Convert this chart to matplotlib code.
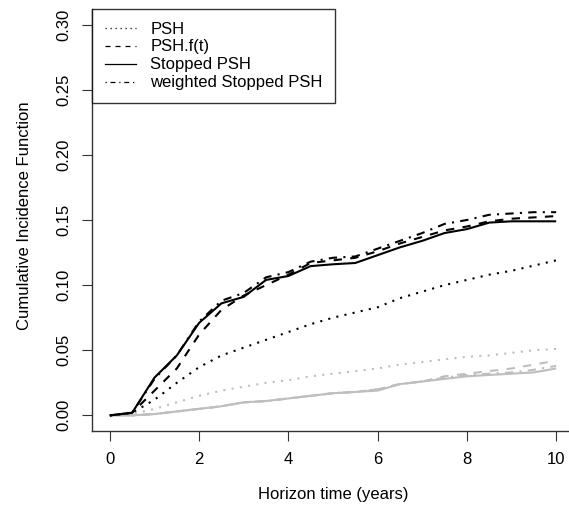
import numpy as np
import matplotlib
matplotlib.use("Agg")
import matplotlib.pyplot as plt
from matplotlib.lines import Line2D

plt.rcParams['font.family'] = ['Liberation Sans', 'DejaVu Sans']

# horizon times (years)
times = [0, 0.5, 1, 1.5, 2, 2.5, 3, 3.5, 4, 4.5, 5, 5.5, 6, 6.5, 7, 7.5, 8, 8.5, 9, 9.5, 10]

# black curves
psh = [0, 0.002, 0.012, 0.025, 0.037, 0.046, 0.052, 0.058, 0.064, 0.070, 0.075,
       0.079, 0.083, 0.090, 0.095, 0.100, 0.104, 0.108, 0.111, 0.115, 0.119]
psh_ft = [0, 0.002, 0.019, 0.036, 0.062, 0.081, 0.092, 0.100, 0.108, 0.117, 0.119,
          0.121, 0.126, 0.132, 0.137, 0.142, 0.145, 0.149, 0.151, 0.152, 0.153]
stopped = [0, 0.002, 0.029, 0.046, 0.071, 0.086, 0.091, 0.104, 0.107, 0.1146, 0.116,
           0.117, 0.123, 0.129, 0.134, 0.140, 0.143, 0.148, 0.149, 0.149, 0.149]
weighted = [0, 0.002, 0.028, 0.046, 0.072, 0.088, 0.094, 0.106, 0.110, 0.118, 0.121,
            0.122, 0.128, 0.134, 0.140, 0.147, 0.150, 0.154, 0.155, 0.156, 0.156]

# grey curves
psh_g = [0, 0.001, 0.005, 0.010, 0.015, 0.019, 0.022, 0.025, 0.027, 0.030, 0.032,
         0.034, 0.036, 0.039, 0.041, 0.043, 0.045, 0.046, 0.048, 0.050, 0.051]
psh_ft_g = [0, 0, 0.001, 0.003, 0.005, 0.007, 0.010, 0.011, 0.013, 0.015, 0.017,
            0.018, 0.020, 0.024, 0.026, 0.030, 0.032, 0.034, 0.036, 0.039, 0.042]
stopped_g = [0, 0, 0.001, 0.003, 0.005, 0.007, 0.010, 0.011, 0.013, 0.015, 0.017,
             0.018, 0.019, 0.024, 0.026, 0.028, 0.030, 0.031, 0.032, 0.033, 0.036]
weighted_g = [0, 0, 0.001, 0.003, 0.005, 0.007, 0.010, 0.011, 0.013, 0.015, 0.017,
              0.018, 0.020, 0.024, 0.026, 0.029, 0.031, 0.032, 0.033, 0.035, 0.038]

labels = ['PSH', 'PSH.f(t)', 'Stopped PSH', 'weighted Stopped PSH']
dashes = [(1, 3), (4, 4), (None, None), (1, 3, 4, 3)]
grey = '#BEBEBE'

W, H = 569, 508
fig = plt.figure(figsize=(W / 100, H / 100), dpi=100)
ax = fig.add_axes([92 / W, (H - 431) / H, 482 / W, 422 / H])

for ys, d in zip([psh_g, psh_ft_g, stopped_g, weighted_g], dashes):
    ln, = ax.plot(times, ys, color=grey, lw=1.5, solid_capstyle='butt', dash_capstyle='butt')
    if d[0] is not None:
        ln.set_dashes(d)
for ys, d in zip([psh, psh_ft, stopped, weighted], dashes):
    ln, = ax.plot(times, ys, color='black', lw=1.5, solid_capstyle='butt', dash_capstyle='butt')
    if d[0] is not None:
        ln.set_dashes(d)

ax.set_xlim(-0.4, 10.4)
ax.set_ylim(-0.012, 0.312)
ax.set_xticks([0, 2, 4, 6, 8, 10])
ax.set_yticks(np.arange(0, 0.31, 0.05))
ax.set_yticklabels(['%.2f' % v for v in np.arange(0, 0.31, 0.05)], rotation=90, va='center')
ax.tick_params(length=7, width=0.8, labelsize=12, pad=8, colors='#333333', labelcolor='black')
for s in ['top', 'right']:
    ax.spines[s].set_visible(False)
for s in ['left', 'bottom']:
    ax.spines[s].set_color('#333333')
    ax.spines[s].set_linewidth(1)

ax.set_xlabel('Horizon time (years)', fontsize=12)
ax.set_ylabel('Cumulative Incidence Function', fontsize=12)
ax.xaxis.set_label_coords((333 - 92) / 482, -(495 - 431) / 422)
ax.xaxis.label.set_va('center')
ax.yaxis.set_label_coords(-(92 - 25) / 482, (431 - 216) / 422)
ax.yaxis.label.set_va('center')

handles = []
for d in dashes:
    h = Line2D([], [], color='black', lw=0.9)
    if d[0] is not None:
        h.set_dashes(d)
    handles.append(h)
leg = ax.legend(handles, labels, loc='upper left', fontsize=12, frameon=True, fancybox=False,
                borderaxespad=0, handlelength=1.9, handletextpad=0.85, labelspacing=0.18,
                borderpad=0.75)
leg.get_frame().set_edgecolor('black')
leg.get_frame().set_linewidth(1)

fig.savefig('out.png', dpi=100)
